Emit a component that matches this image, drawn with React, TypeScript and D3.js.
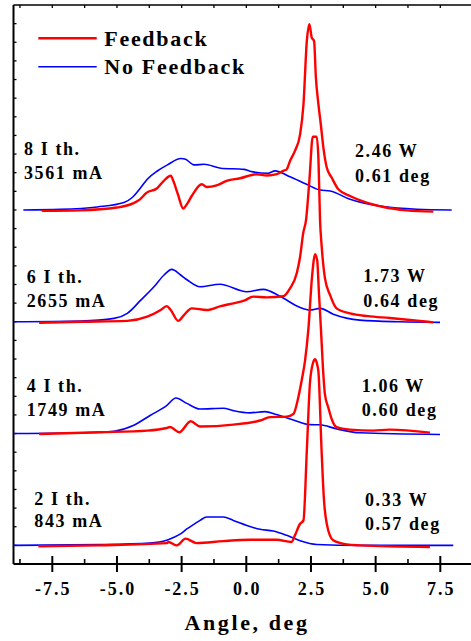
import React from "react";
import * as d3 from "d3";

// ---------- DATA (angle in deg, normalized intensity above each curve's baseline) ----------
const curveOffsets = [19, 13, 7, 1]; // 8 Ith, 6 Ith, 4 Ith, 2 Ith

const noFeedback8: [number, number][] = [
  [-8.62, 0], [-7.2, 0.03], [-5.76, 0.16], [-4.73, 0.4], [-4.41, 0.67], [-4.08, 1.2], [-3.83, 1.65],
  [-3.44, 2.09], [-3.05, 2.42], [-2.53, 2.76], [-2.35, 2.72], [-2.02, 2.42], [-1.63, 2.45], [-0.99, 2.24],
  [-0.09, 2.18], [0.14, 2.08], [0.85, 1.97], [1.11, 2.1], [1.69, 1.78], [2.33, 1.38], [2.85, 1.07],
  [3.24, 1.02], [4.01, 0.57], [5.3, 0.18], [6.59, 0.04], [7.94, 0],
];
const feedback8: [number, number][] = [
  [-7.91, -0.05], [-6.43, -0.02], [-5.01, 0.13], [-4.38, 0.35], [-4.11, 0.57], [-3.85, 0.93], [-3.46, 1.15],
  [-3.2, 1.55], [-2.92, 1.84], [-2.82, 1.55], [-2.64, 0.82], [-2.44, 0.08], [-2.3, 0.3], [-2.11, 0.75],
  [-1.72, 1.38], [-1.53, 1.23], [-1.15, 1.32], [-0.76, 1.56], [-0.24, 1.7], [0.4, 1.92], [0.8, 1.85],
  [1.18, 1.92], [1.43, 2.1], [1.56, 2.18], [1.69, 2.63], [1.88, 3.17], [2.08, 4.06], [2.21, 5.67],
  [2.34, 9.07], [2.44, 9.97], [2.53, 9.25], [2.62, 9.07], [2.69, 7.11], [2.78, 5.77], [2.88, 4.6],
  [2.98, 3.35], [3.11, 2.28], [3.3, 1.74], [3.56, 1.11], [4.01, 0.75], [4.65, 0.39], [5.3, 0.16],
  [6.2, -0.02], [7.23, -0.09],
];

const noFeedback6: [number, number][] = [
  [-8.98, 0], [-6.4, 0.04], [-5.11, 0.18], [-4.6, 0.45], [-4.08, 1.16], [-3.57, 1.88], [-3.18, 2.51],
  [-2.88, 2.81], [-2.54, 2.51], [-2.28, 2.24], [-1.79, 1.88], [-1.02, 2.01], [0.02, 1.61], [0.66, 1.74],
  [1.3, 1.37], [2.08, 0.77], [2.46, 0.63], [2.85, 0.72], [3.36, 0.41], [4.39, 0.09], [5.93, 0], [7.49, -0.03],
];
const feedback6: [number, number][] = [
  [-8.01, -0.05], [-6.4, 0], [-4.6, 0.05], [-3.83, 0.27], [-3.31, 0.63], [-3.08, 0.84], [-2.92, 0.63],
  [-2.63, 0.05], [-2.41, 0.36], [-2.11, 0.72], [-1.53, 0.63], [-0.99, 0.84], [-0.5, 0.99], [-0.09, 1.13],
  [0.27, 1.35], [0.79, 1.31], [1.43, 1.37], [1.69, 1.79], [1.95, 2.6], [2.08, 3.49], [2.2, 4.76],
  [2.31, 5.47], [2.44, 7.6], [2.57, 9.93], [2.72, 9.93], [2.79, 8.7], [2.85, 5.47], [2.91, 4.13],
  [3.04, 2.34], [3.24, 1.43], [3.49, 0.72], [4.01, 0.45], [4.7, 0.3], [5.55, 0.2], [6.71, 0.04], [7.23, -0.03],
];

const noFeedback4: [number, number][] = [
  [-8.98, 0], [-5.66, 0.07], [-5.11, 0.12], [-4.37, 0.43], [-3.72, 0.97], [-3.08, 1.5], [-2.72, 1.91],
  [-2.3, 1.62], [-1.79, 1.32], [-0.89, 1.36], [-0.5, 1.23], [0.14, 1.11], [0.72, 1.18], [1.17, 1.02],
  [1.82, 0.73], [2.46, 0.48], [2.85, 0.47], [3.49, 0.25], [4.39, 0.04], [7.49, -0.05],
];
const feedback4: [number, number][] = [
  [-8.01, -0.02], [-5.66, 0.07], [-3.83, 0.16], [-3.08, 0.3], [-2.95, 0.35], [-2.59, 0.07], [-2.15, 0.66],
  [-1.79, 0.38], [-0.5, 0.48], [0.53, 0.7], [0.92, 0.88], [1.56, 0.91], [1.82, 1.05], [2.01, 1.94],
  [2.14, 2.85], [2.27, 3.9], [2.4, 5.6], [2.54, 8.4], [2.66, 9.62], [2.74, 9.3], [2.81, 7.5], [2.89, 5.5],
  [2.96, 3.6], [3.04, 2.1], [3.17, 1.4], [3.3, 0.78], [3.49, 0.34], [4.01, 0.21], [4.9, 0.16], [5.55, 0.21],
  [7.1, 0.05],
];

const noFeedback2: [number, number][] = [
  [-9.0, 0], [-5.66, 0.04], [-3.72, 0.12], [-3.08, 0.27], [-2.82, 0.42], [-2.56, 0.6], [-2.3, 0.88],
  [-2.0, 1.15], [-1.79, 1.34], [-1.53, 1.52], [-0.89, 1.52], [-0.5, 1.34], [0.02, 1.07], [0.53, 0.86],
  [1.04, 0.77], [1.56, 0.54], [2.08, 0.25], [2.72, 0.05], [4.39, 0], [8.0, 0],
];
const feedback2: [number, number][] = [
  [-8.04, -0.05], [-5.66, 0], [-3.08, 0.12], [-3.01, 0.18], [-2.68, 0], [-2.35, 0.36], [-1.92, 0.12],
  [-0.89, 0.23], [0.14, 0.3], [1.17, 0.3], [1.75, 0.18], [1.88, 0.54], [2.08, 1.16], [2.21, 1.34],
  [2.34, 5.1], [2.46, 8.7], [2.58, 9.8], [2.66, 9.99], [2.74, 9.7], [2.79, 9.3], [2.91, 5.1], [3.0, 2.5],
  [3.11, 1.16], [3.36, 0.27], [3.88, 0.05], [4.39, 0], [7.1, -0.09],
];

const noFeedbackSeries = [noFeedback8, noFeedback6, noFeedback4, noFeedback2];
const feedbackSeries = [feedback8, feedback6, feedback4, feedback2];

const currentLabels = [
  ["8 I th.", "3561 mA"],
  ["6 I th.", "2655 mA"],
  ["4 I th.", "1749 mA"],
  ["2 I th.", "843 mA"],
];
const powerLabels = [
  ["2.46 W", "0.61 deg"],
  ["1.73 W", "0.64 deg"],
  ["1.06 W", "0.60 deg"],
  ["0.33 W", "0.57 deg"],
];
const xTickValues = [-7.5, -5, -2.5, 0, 2.5, 5, 7.5];
const xTickLabels = ["-7.5", "-5.0", "-2.5", "0.0", "2.5", "5.0", "7.5"];
const legendNames = ["Feedback", "No Feedback"];
const xTitle = "Angle, deg";

// ---------- LAYOUT ----------
const W = 471;
const H = 641;
const leftLabelPos = [
  { x: 24, y1: 155, y2: 179 },
  { x: 26.7, y1: 283.3, y2: 307.3 },
  { x: 26.7, y1: 391.7, y2: 416 },
  { x: 34.3, y1: 505, y2: 526.7 },
];
const rightLabelPos = [
  { x: 355, y1: 156.7, y2: 181.7 },
  { x: 363.3, y1: 281.7, y2: 307.3 },
  { x: 361.7, y1: 391.7, y2: 416 },
  { x: 365, y1: 506, y2: 530 },
];

const RED = "#ff0000";
const BLUE = "#0000ff";
const FONT = "'Liberation Serif', 'Times New Roman', serif";

export default function App() {
  const x = d3.scaleLinear().domain([-9, 9]).range([13.5, 479.1]);
  const y = d3.scaleLinear().domain([0, 30]).range([564, 5]);

  const lineFor = (offset: number) =>
    d3
      .line<[number, number]>()
      .x((d) => x(d[0]))
      .y((d) => y(d[1] + offset))
      .curve(d3.curveMonotoneX);

  const minorX = d3.range(-8.75, 8.76, 1.25).filter((v) => Math.abs(v / 2.5 - Math.round(v / 2.5)) > 0.01);
  const topTicks = d3.range(-8.75, 8.76, 1.25);
  const leftTicks = d3.range(1, 30, 1);

  const axisY = y(0);
  const axisTop = y(30);
  const axisLeft = x(-9);

  return (
    <div style={{ position: "absolute", left: 0, top: 0 }}>
      <style>{"body{margin:0}"}</style>
      <svg width={W} height={H} style={{ display: "block", background: "#fff" }} fontFamily={FONT}>
        {/* frame */}
        <line x1={axisLeft} x2={W + 10} y1={axisTop} y2={axisTop} stroke="#000" strokeWidth={1.6} />
        <line x1={axisLeft} x2={W + 10} y1={axisY} y2={axisY} stroke="#000" strokeWidth={2} />
        <line x1={axisLeft} x2={axisLeft} y1={axisTop} y2={axisY} stroke="#000" strokeWidth={2} />

        {/* top ticks */}
        {topTicks.map((v, i) => (
          <line key={"tt" + i} x1={x(v)} x2={x(v)} y1={axisTop} y2={axisTop + 3} stroke="#000" strokeWidth={1.3} />
        ))}
        {/* left ticks */}
        {leftTicks.map((v, i) => (
          <line key={"lt" + i} x1={axisLeft} x2={axisLeft + 3} y1={y(v)} y2={y(v)} stroke="#000" strokeWidth={1.3} />
        ))}
        {/* bottom minor ticks */}
        {minorX.map((v, i) => (
          <line key={"bm" + i} x1={x(v)} x2={x(v)} y1={axisY} y2={axisY - 5} stroke="#000" strokeWidth={1.6} />
        ))}
        {/* bottom major ticks + labels */}
        {xTickValues.map((v, i) => (
          <g key={"bt" + i}>
            <line x1={x(v)} x2={x(v)} y1={axisY - 8} y2={axisY + 8} stroke="#000" strokeWidth={2} />
            <text
              x={x(v) + 1}
              y={595}
              textAnchor="middle"
              fontSize={18}
              fontWeight="bold"
              letterSpacing={2}
              fill="#000"
            >
              {xTickLabels[i]}
            </text>
          </g>
        ))}
        <text x={247} y={630} textAnchor="middle" fontSize={22} fontWeight="bold" letterSpacing={2.6} fill="#000">
          {xTitle}
        </text>

        {/* curves */}
        {noFeedbackSeries.map((s, i) => (
          <path key={"nf" + i} d={lineFor(curveOffsets[i])(s) || ""} fill="none" stroke={BLUE} strokeWidth={1.6} strokeLinejoin="round" />
        ))}
        {feedbackSeries.map((s, i) => (
          <path key={"fb" + i} d={lineFor(curveOffsets[i])(s) || ""} fill="none" stroke={RED} strokeWidth={2.4} strokeLinejoin="round" />
        ))}

        {/* labels */}
        {currentLabels.map((lab, i) => (
          <g key={"cl" + i} fontSize={18} fontWeight="bold" letterSpacing={1.6} fill="#000">
            <text x={leftLabelPos[i].x} y={leftLabelPos[i].y1}>{lab[0]}</text>
            <text x={leftLabelPos[i].x} y={leftLabelPos[i].y2}>{lab[1]}</text>
          </g>
        ))}
        {powerLabels.map((lab, i) => (
          <g key={"pl" + i} fontSize={18} fontWeight="bold" letterSpacing={1.6} fill="#000">
            <text x={rightLabelPos[i].x} y={rightLabelPos[i].y1}>{lab[0]}</text>
            <text x={rightLabelPos[i].x} y={rightLabelPos[i].y2}>{lab[1]}</text>
          </g>
        ))}

        {/* legend */}
        <line x1={38.3} x2={96.7} y1={38.3} y2={38.3} stroke={RED} strokeWidth={2.4} />
        <line x1={38.3} x2={96.7} y1={66.7} y2={66.7} stroke={BLUE} strokeWidth={1.6} />
        <text x={104.3} y={45.7} fontSize={22} fontWeight="bold" letterSpacing={1.7} fill="#000">{legendNames[0]}</text>
        <text x={104.3} y={74} fontSize={22} fontWeight="bold" letterSpacing={1.7} fill="#000">{legendNames[1]}</text>
      </svg>
    </div>
  );
}
